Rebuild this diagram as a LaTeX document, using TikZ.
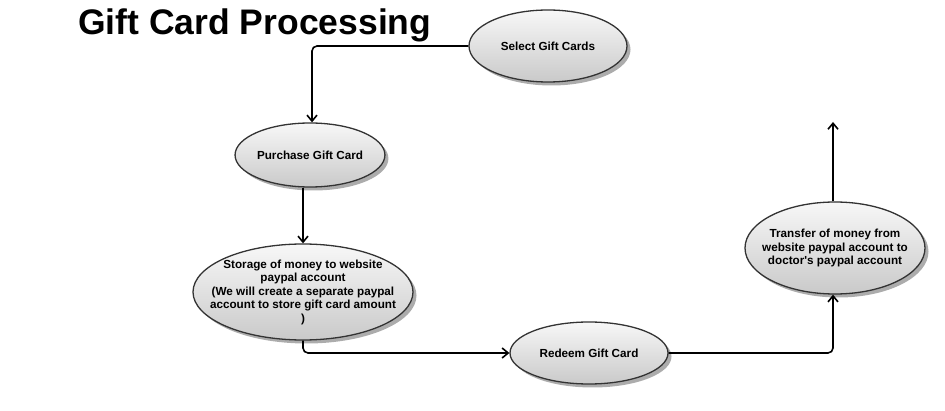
\documentclass[tikz,border=0pt]{standalone}
\usepackage{fontspec}
\setmainfont{Liberation Sans}[Ligatures=TeXOff]
\usepackage{tikz}
\usetikzlibrary{arrows.meta}
\usetikzlibrary{shapes.geometric}
\usetikzlibrary{shadows}

\tikzset{
  bubble/.style={ellipse, draw=black!80, line width=1.3pt,
    top color=gray!6, bottom color=gray!42, inner sep=0pt,
    align=center, font=\bfseries\fontsize{11.7}{13.5}\selectfont,
    drop shadow={shadow xshift=3.5pt, shadow yshift=-3.5pt, fill=gray!65, opacity=1}},
  flow/.style={line width=1.6pt, -{Straight Barb[length=6pt,width=10pt,line width=1.6pt]}, rounded corners=5pt}
}

\begin{document}
\begin{tikzpicture}[x=1pt,y=-1pt]
        % page frame
        \useasboundingbox (0,0) rectangle (945,411);

        % title
        \node[anchor=base west, inner sep=0pt, font=\bfseries\fontsize{35.5}{37}\selectfont] (title) at (78,35) {Gift Card Processing};

        % the steps
        \node[bubble, minimum width=158pt, minimum height=72pt] (sel) at (548,46) {Select Gift Cards};
        \node[bubble, minimum width=146pt, minimum height=64pt] (pur) at (310,155) {Purchase Gift Card};
        \node[bubble, minimum width=220pt, minimum height=96pt, inner xsep=-18pt] (sto) at (303,292)
          {Storage of money to website\\paypal account\\(We will create a separate paypal\\account to store gift card amount\\)};
        \node[bubble, minimum width=158pt, minimum height=62pt] (red) at (589,353) {Redeem Gift Card};
        \node[bubble, minimum width=180pt, minimum height=92pt, inner xsep=-12pt] (tra) at (835,248)
          {Transfer of money from\\website paypal account to\\doctor's paypal account};

        % free end of the last arrow
        \coordinate (out) at (833,122);

        % connectors
        \draw[flow] (sel.west) -| ([xshift=2pt]pur.north);
        \draw[flow] (pur.south -| sto.north) -- (sto.north);
        \draw[flow] (sto.south) |- (red.west);
        \draw[flow] (red.east) -| (tra.south -| out);
        \draw[flow] (tra.north -| out) -- (out);
\end{tikzpicture}
\end{document}
